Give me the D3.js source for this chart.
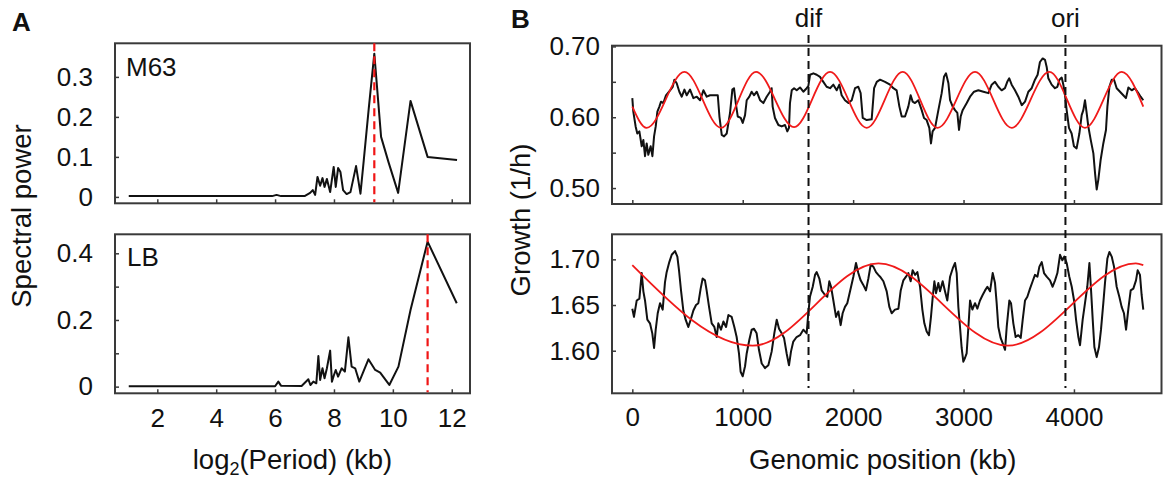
<!DOCTYPE html>
<html><head><meta charset="utf-8">
<script src="https://cdn.jsdelivr.net/npm/d3@7"></script>
<style>
body{margin:0;background:#fff}
svg{display:block}
text{font-family:"Liberation Sans",Arial,sans-serif;fill:#111}
</style>
</head><body>
<svg id="chart" width="1163" height="479"></svg>
<script>
// ---------------- Panel A data: spectral power vs log2(period) ----------------
const m63Log2  = [1.03,5.9,6.05,6.2,7.0,7.19,7.28,7.36,7.44,7.53,7.61,7.68,7.76,7.87,7.99,8.06,8.14,8.22,8.31,8.43,8.56,8.75,8.9,9.01,9.18,9.37,9.6,9.86,10.18,10.6,11.18,12.18];
const m63Power = [0.002,0.002,0.005,0.002,0.002,0.01,0.017,0.005,0.05,0.028,0.047,0.025,0.045,0.012,0.075,0.025,0.072,0.062,0.017,0.007,0.012,0.077,0.008,0.09,0.22,0.358,0.15,0.085,0.01,0.24,0.10,0.092];
const lbLog2   = [1.03,6.0,6.11,6.2,6.9,7.13,7.2,7.3,7.4,7.47,7.53,7.61,7.68,7.76,7.87,7.93,8.0,8.06,8.14,8.26,8.37,8.49,8.6,8.72,8.86,9.17,9.4,9.57,9.88,10.19,10.6,11.18,12.17];
const lbPower  = [0.001,0.001,0.015,0.003,0.002,0.022,0.005,0.015,0.01,0.092,0.02,0.055,0.025,0.055,0.108,0.015,0.035,0.05,0.03,0.055,0.045,0.148,0.06,0.055,0.015,0.082,0.05,0.042,0.005,0.06,0.23,0.435,0.25];
const m63PeakLog2 = 9.37;
const lbPeakLog2  = 11.18;
const aXTicks = [2,4,6,8,10,12];
const aTopYTicks = [0,0.1,0.2,0.3];
const aTopYLabels = ["0","0.1","0.2","0.3"];
const aBotYTicks = [0,0.1,0.2,0.3,0.4];
const aBotYLabels = ["0","","0.2","","0.4"];

// ---------------- Panel B data: growth vs genomic position (kb) ----------------
const m63Pos = [0,9,30,45,64,85,100,115,130,145,166,182,197,212,227,245,260,281,305,342,366,381,402,426,448,472,493,523,553,584,614,644,674,704,750,774,789,810,831,855,885,906,921,937,955,982,1000,1021,1036,1060,1081,1102,1127,1157,1187,1217,1247,1262,1271,1292,1323,1353,1383,1404,1419,1428,1444,1465,1489,1519,1549,1579,1594,1610,1640,1670,1700,1730,1760,1791,1821,1851,1875,1896,1926,1957,1987,2017,2047,2068,2087,2123,2168,2190,2214,2244,2289,2334,2364,2394,2419,2440,2470,2500,2521,2539,2560,2590,2621,2642,2666,2690,2705,2720,2742,2772,2802,2823,2841,2863,2878,2902,2923,2944,2959,2974,2992,3029,3059,3095,3134,3180,3225,3255,3285,3315,3345,3375,3396,3414,3436,3466,3496,3527,3557,3587,3617,3647,3671,3692,3717,3738,3753,3768,3798,3828,3850,3868,3889,3904,3919,3934,3955,3979,4000,4024,4049,4070,4085,4100,4115,4130,4152,4176,4191,4206,4221,4242,4266,4290,4303,4321,4342,4363,4387,4417,4447,4471,4493,4523,4553,4583,4604,4628];
const m63Growth = [0.627,0.608,0.587,0.577,0.580,0.559,0.568,0.545,0.563,0.547,0.559,0.545,0.573,0.587,0.608,0.615,0.622,0.620,0.631,0.638,0.643,0.653,0.648,0.636,0.629,0.639,0.631,0.639,0.627,0.629,0.624,0.638,0.629,0.631,0.631,0.631,0.601,0.575,0.573,0.577,0.606,0.639,0.641,0.620,0.601,0.599,0.592,0.603,0.624,0.629,0.636,0.631,0.636,0.624,0.620,0.629,0.636,0.641,0.615,0.599,0.589,0.587,0.589,0.580,0.585,0.620,0.638,0.641,0.638,0.642,0.636,0.641,0.644,0.660,0.662,0.660,0.657,0.650,0.643,0.641,0.646,0.638,0.646,0.631,0.624,0.620,0.624,0.641,0.643,0.634,0.599,0.596,0.597,0.641,0.650,0.653,0.650,0.646,0.641,0.638,0.615,0.601,0.601,0.615,0.631,0.622,0.620,0.624,0.610,0.599,0.596,0.585,0.563,0.580,0.585,0.610,0.634,0.657,0.662,0.648,0.624,0.615,0.610,0.606,0.582,0.601,0.610,0.620,0.629,0.636,0.638,0.636,0.634,0.646,0.650,0.643,0.638,0.641,0.650,0.655,0.646,0.638,0.629,0.617,0.622,0.636,0.641,0.653,0.660,0.678,0.683,0.681,0.671,0.655,0.646,0.641,0.643,0.653,0.656,0.646,0.631,0.610,0.585,0.577,0.559,0.556,0.577,0.603,0.610,0.624,0.606,0.587,0.568,0.549,0.521,0.498,0.512,0.540,0.563,0.582,0.615,0.643,0.653,0.653,0.641,0.636,0.631,0.627,0.642,0.638,0.641,0.634,0.629,0.624];
const m63FitPos = [0,130,472,804,1121,1465,1791,2123,2449,2765,3104,3436,3777,4100,4433,4628];
const m63FitVal = [0.615,0.585,0.664,0.585,0.664,0.586,0.664,0.585,0.664,0.585,0.664,0.585,0.664,0.585,0.664,0.615];

const lbPos = [0,15,40,64,85,100,115,136,160,181,197,212,230,251,275,296,311,335,357,387,408,423,441,462,483,507,529,553,577,598,619,637,658,673,695,719,743,764,779,803,825,849,870,900,924,945,966,981,1000,1021,1036,1060,1081,1102,1126,1147,1172,1202,1232,1262,1286,1308,1329,1353,1374,1398,1419,1437,1458,1488,1519,1549,1579,1594,1609,1634,1655,1670,1694,1715,1745,1766,1784,1800,1821,1845,1866,1887,1905,1926,1947,1972,2002,2026,2047,2068,2092,2116,2138,2159,2183,2207,2228,2244,2274,2304,2328,2349,2379,2410,2431,2455,2479,2500,2521,2539,2561,2582,2606,2627,2645,2666,2687,2705,2721,2736,2751,2772,2787,2811,2832,2853,2878,2902,2923,2938,2953,2968,2983,2998,3013,3028,3044,3059,3080,3104,3125,3149,3173,3195,3216,3240,3264,3285,3300,3315,3336,3355,3376,3391,3415,3430,3451,3472,3496,3518,3536,3557,3578,3602,3626,3647,3669,3687,3708,3729,3753,3783,3807,3829,3850,3874,3895,3913,3934,3958,3980,4001,4019,4040,4055,4079,4100,4121,4140,4155,4170,4185,4206,4227,4245,4266,4281,4303,4321,4342,4363,4387,4411,4432,4453,4472,4493,4514,4538,4562,4577,4598,4613,4628];
const lbGrowth = [1.646,1.637,1.655,1.657,1.685,1.665,1.655,1.634,1.630,1.619,1.603,1.623,1.641,1.652,1.645,1.675,1.686,1.697,1.705,1.709,1.703,1.688,1.666,1.644,1.634,1.626,1.634,1.644,1.650,1.652,1.668,1.679,1.677,1.666,1.648,1.630,1.626,1.615,1.630,1.623,1.632,1.626,1.639,1.637,1.626,1.615,1.597,1.577,1.572,1.583,1.597,1.612,1.623,1.624,1.619,1.601,1.586,1.581,1.584,1.599,1.619,1.634,1.624,1.619,1.614,1.597,1.584,1.599,1.610,1.615,1.617,1.623,1.619,1.641,1.659,1.670,1.683,1.686,1.679,1.666,1.661,1.659,1.676,1.670,1.655,1.637,1.643,1.628,1.641,1.648,1.652,1.665,1.681,1.696,1.685,1.677,1.672,1.666,1.679,1.694,1.692,1.686,1.683,1.681,1.676,1.665,1.648,1.641,1.645,1.646,1.666,1.677,1.681,1.685,1.676,1.688,1.683,1.686,1.670,1.645,1.630,1.621,1.617,1.637,1.659,1.676,1.663,1.674,1.665,1.676,1.665,1.655,1.681,1.690,1.696,1.685,1.648,1.626,1.603,1.588,1.592,1.597,1.626,1.655,1.645,1.652,1.646,1.655,1.661,1.666,1.670,1.665,1.685,1.674,1.652,1.626,1.614,1.608,1.601,1.626,1.655,1.652,1.630,1.615,1.617,1.614,1.634,1.655,1.659,1.668,1.676,1.683,1.681,1.692,1.697,1.685,1.681,1.677,1.670,1.677,1.685,1.705,1.699,1.703,1.696,1.681,1.670,1.655,1.634,1.615,1.606,1.634,1.652,1.670,1.696,1.666,1.634,1.604,1.593,1.604,1.623,1.652,1.674,1.701,1.708,1.703,1.692,1.670,1.659,1.648,1.641,1.623,1.646,1.666,1.668,1.677,1.688,1.683,1.661,1.645];
const lbFitPos = [0,1090,2230,3400,4560,4628];
const lbFitVal = [1.6937,1.6055,1.6955,1.6055,1.6955,1.6937];

const difPos = 1596, oriPos = 3923;
const bXTicks = [0,1000,2000,3000,4000];
const bTopYTicks = [0.50,0.55,0.60,0.65,0.70];
const bTopYLabels = ["0.50","","0.60","","0.70"];
const bBotYTicks = [1.60,1.65,1.70];
const bBotYLabels = ["1.60","1.65","1.70"];

// ---------------- drawing ----------------
const svg = d3.select("#chart");
const FS_TICK = 26, FS_TITLE = 27.5, FS_LAB = 26;
const frameColor = "#3a3a3a";

function frame(x0,x1,y0,y1){
  svg.append("rect").attr("x",x0).attr("y",y0).attr("width",x1-x0).attr("height",y1-y0)
    .attr("fill","none").attr("stroke",frameColor).attr("stroke-width",2);
}
function styleAxis(g){
  g.select(".domain").remove();
  g.selectAll(".tick line").attr("stroke",frameColor).attr("stroke-width",1.5);
  g.selectAll(".tick text").attr("font-size",FS_TICK).attr("fill","#111")
    .attr("font-family","Liberation Sans, Arial, sans-serif");
}
function yAxis(scale,x,ticks,labels,pad){
  const g = svg.append("g").attr("transform",`translate(${x},0)`)
    .call(d3.axisLeft(scale).tickValues(ticks).tickSizeInner(-4).tickSizeOuter(0).tickPadding(pad)
      .tickFormat((d,i)=>labels[i]));
  styleAxis(g);
}
function xAxis(scale,y,ticks,showLabels,pad){
  const g = svg.append("g").attr("transform",`translate(0,${y})`)
    .call(d3.axisBottom(scale).tickValues(ticks).tickSizeInner(-4).tickSizeOuter(0).tickPadding(pad)
      .tickFormat(d=>showLabels? String(d):""));
  styleAxis(g);
}

// Panel A geometry
const aL=115, aR=470, aTopT=43.3, aTopB=203.3, aBotT=234.3, aBotB=393.3;
const xA = d3.scaleLinear().domain([0.563,12.62]).range([aL,aR]);
const yAtop = d3.scaleLinear().domain([-0.016,0.384]).range([aTopB,aTopT]);
const yAbot = d3.scaleLinear().domain([-0.02,0.457]).range([aBotB,aBotT]);

frame(aL,aR,aTopT,aTopB);
frame(aL,aR,aBotT,aBotB);
yAxis(yAtop,aL,aTopYTicks,aTopYLabels,22);
yAxis(yAbot,aL,aBotYTicks,aBotYLabels,22);
xAxis(xA,aTopB,aXTicks,false,16);
xAxis(xA,aBotB,aXTicks,true,15);

const lineA = (ys)=>d3.line().x(d=>xA(d[0])).y(d=>ys(d[1]));
svg.append("path").datum(d3.zip(m63Log2,m63Power)).attr("d",lineA(yAtop))
  .attr("fill","none").attr("stroke","#111").attr("stroke-width",2).attr("stroke-linejoin","round");
svg.append("path").datum(d3.zip(lbLog2,lbPower)).attr("d",lineA(yAbot))
  .attr("fill","none").attr("stroke","#111").attr("stroke-width",2).attr("stroke-linejoin","round");
svg.append("line").attr("x1",xA(m63PeakLog2)).attr("x2",xA(m63PeakLog2)).attr("y1",aTopT).attr("y2",aTopB-1)
  .attr("stroke","#f01515").attr("stroke-width",2.2).attr("stroke-dasharray","8,5");
svg.append("line").attr("x1",xA(lbPeakLog2)).attr("x2",xA(lbPeakLog2)).attr("y1",aBotT).attr("y2",aBotB-1)
  .attr("stroke","#f01515").attr("stroke-width",2.2).attr("stroke-dasharray","8,5");

svg.append("text").attr("x",126).attr("y",76).attr("font-size",FS_LAB).text("M63");
svg.append("text").attr("x",127).attr("y",266).attr("font-size",FS_LAB).text("LB");

const tA = svg.append("text").attr("x",(aL+aR)/2).attr("y",469).attr("text-anchor","middle").attr("font-size",FS_TITLE);
tA.append("tspan").text("log");
tA.append("tspan").attr("dy",6).attr("font-size",18).text("2");
tA.append("tspan").attr("dy",-6).text("(Period) (kb)");
svg.append("text").attr("transform","translate(31,216) rotate(-90)").attr("text-anchor","middle")
  .attr("font-size",FS_TITLE).text("Spectral power");
svg.append("text").attr("x",12).attr("y",31).attr("font-size",26).attr("font-weight","bold").text("A");

// Panel B geometry
const bL=612, bR=1161.5, bTopT=45.7, bTopB=204, bBotT=234.3, bBotB=393.3;
const xB = d3.scaleLinear().domain([-184,4793]).range([bL,bR]);
const yBtop = d3.scaleLinear().domain([0.4775,0.701]).range([bTopB,bTopT]);
const yBbot = d3.scaleLinear().domain([1.5534,1.7274]).range([bBotB,bBotT]);

frame(bL,bR,bTopT,bTopB);
frame(bL,bR,bBotT,bBotB);
yAxis(yBtop,bL,bTopYTicks,bTopYLabels,12);
yAxis(yBbot,bL,bBotYTicks,bBotYLabels,12);
xAxis(xB,bTopB,bXTicks,false,16);
xAxis(xB,bBotB,bXTicks,true,14);

const lineB = (ys,curve)=>d3.line().x(d=>xB(d[0])).y(d=>ys(d[1])).curve(curve||d3.curveLinear);
svg.append("path").datum(d3.zip(m63Pos,m63Growth)).attr("d",lineB(yBtop))
  .attr("fill","none").attr("stroke","#111").attr("stroke-width",2).attr("stroke-linejoin","round");
svg.append("path").datum(d3.zip(m63FitPos,m63FitVal)).attr("d",lineB(yBtop,d3.curveMonotoneX))
  .attr("fill","none").attr("stroke","#f01a1a").attr("stroke-width",1.8);
svg.append("path").datum(d3.zip(lbPos,lbGrowth)).attr("d",lineB(yBbot))
  .attr("fill","none").attr("stroke","#111").attr("stroke-width",2).attr("stroke-linejoin","round");
svg.append("path").datum(d3.zip(lbFitPos,lbFitVal)).attr("d",lineB(yBbot,d3.curveMonotoneX))
  .attr("fill","none").attr("stroke","#f01a1a").attr("stroke-width",1.8);

[[difPos,"dif"],[oriPos,"ori"]].forEach(([p,lab])=>{
  svg.append("line").attr("x1",xB(p)).attr("x2",xB(p)).attr("y1",35).attr("y2",388)
    .attr("stroke","#111").attr("stroke-width",2).attr("stroke-dasharray","8,5");
  svg.append("text").attr("x",xB(p)).attr("y",27).attr("text-anchor","middle").attr("font-size",FS_LAB).text(lab);
});

svg.append("text").attr("x",(bL+bR)/2-4).attr("y",469).attr("text-anchor","middle")
  .attr("font-size",FS_TITLE).text("Genomic position (kb)");
svg.append("text").attr("transform","translate(530,220) rotate(-90)").attr("text-anchor","middle")
  .attr("font-size",FS_TITLE).text("Growth (1/h)");
svg.append("text").attr("x",511).attr("y",28).attr("font-size",26).attr("font-weight","bold").text("B");
</script>
</body></html>
